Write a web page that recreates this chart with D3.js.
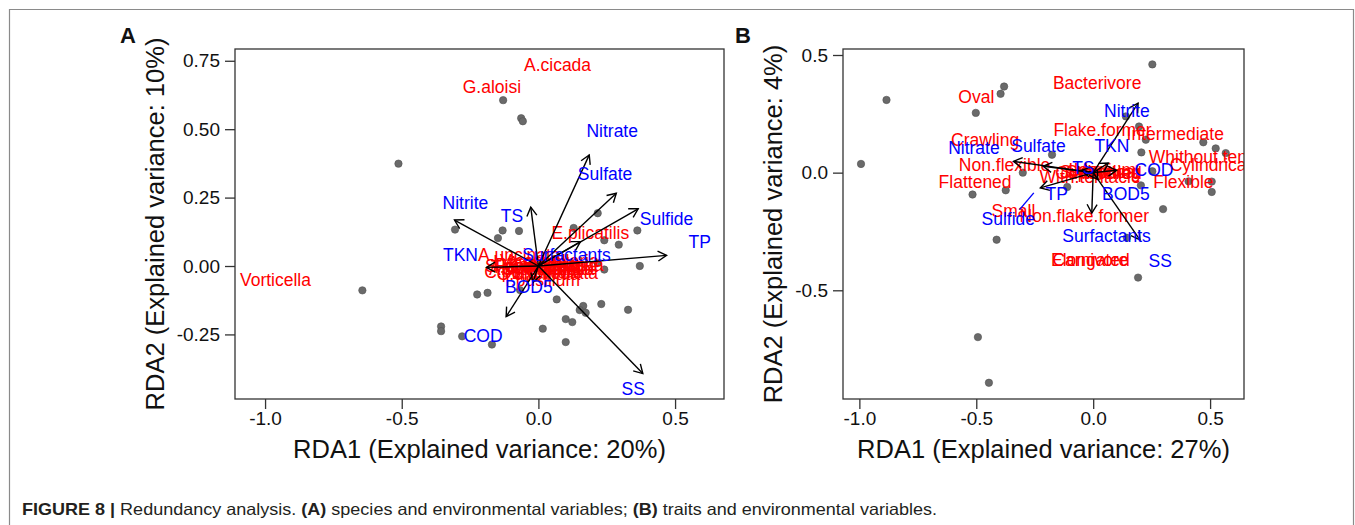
<!DOCTYPE html>
<html><head><meta charset="utf-8">
<script src="https://cdn.jsdelivr.net/npm/d3@7"></script>
<style>body{margin:0;background:#fff}svg{display:block}text{font-family:"Liberation Sans",Arial,Helvetica,sans-serif}</style>
</head><body><svg id="c" width="1355" height="525"></svg>
<script>
// ---------- Panel A : species & environmental variables ----------
const sitesAx = [-0.129,-0.063,-0.057,-0.512,-0.305,-0.131,-0.071,-0.148,0.217,0.129,0.362,0.241,0.294,0.217,0.241,0.371,-0.644,-0.224,-0.186,-0.067,0.067,0.164,0.151,0.173,0.230,0.328,0.100,0.124,0.016,0.100,-0.356,-0.356,-0.279,-0.170];
const sitesAy = [0.606,0.540,0.529,0.374,0.133,0.130,0.128,0.102,0.193,0.139,0.130,0.094,0.078,0.011,-0.013,0.000,-0.089,-0.104,-0.098,-0.088,-0.122,-0.146,-0.161,-0.171,-0.139,-0.160,-0.194,-0.205,-0.229,-0.278,-0.221,-0.238,-0.257,-0.287];

const envAnames = ["Nitrate","Sulfate","Sulfide","TP","SS","COD","Nitrite","TS","TKN","Surfactants","BOD5"];
const envAx  = [0.186,0.285,0.365,0.469,0.382,-0.118,-0.307,-0.028,-0.190,0.154,-0.020];
const envAy  = [0.406,0.266,0.209,0.039,-0.393,-0.185,0.168,0.215,-0.005,0.089,-0.060];
const envAlx = [0.270,0.244,0.469,0.590,0.347,-0.202,-0.267,-0.097,-0.285,0.103,-0.035];
const envAly = [0.494,0.337,0.174,0.089,-0.448,-0.256,0.232,0.183,0.040,0.040,-0.076];

const sppAnames = ["A.cicada","G.aloisi","Vorticella","E.plicatilis","A.uncinata","T.pusillum",
  "S.lemnae","A.costata","O.articulata","C.polypinum","Z.arbuscula","L.fasciola","E.patella",
  "C.uncinata","V.convallaria","A.vulgaris","E.alveolata","P.caudatum","R.rotatoria","T.pyriformis"];
const sppAx = [0.070,-0.170,-0.962,0.190,-0.070,0.010,-0.060,0.020,0.030,-0.020,0.050,-0.030,0.080,0.000,0.040,-0.040,0.060,0.010,0.090,-0.010];
const sppAy = [0.735,0.654,-0.049,0.120,0.040,-0.050,0.000,0.010,-0.010,-0.020,0.000,0.015,-0.010,-0.030,0.020,-0.010,-0.025,0.005,0.005,-0.005];

const xTicksA = [-1.0,-0.5,0.0,0.5];
const yTicksA = [-0.25,0.00,0.25,0.50,0.75];

// ---------- Panel B : traits & environmental variables ----------
const sitesBx = [0.253,-0.381,-0.396,-0.884,-0.502,-0.993,0.140,0.196,0.225,-0.176,0.206,0.471,0.524,0.567,-0.301,-0.374,-0.516,-0.111,0.204,0.253,0.408,0.507,0.507,0.299,-0.413,0.192,-0.493,-0.446,0.144];
const sitesBy = [0.460,0.366,0.335,0.309,0.254,0.037,0.239,0.196,0.140,0.076,0.086,0.129,0.103,0.083,0.000,-0.075,-0.093,-0.061,-0.054,0.006,-0.037,-0.038,-0.082,-0.155,-0.285,-0.446,-0.699,-0.893,-0.277];

const envBnames = ["Nitrite","TKN","Sulfate","Nitrate","TS","COD","TP","BOD5","Surfactants","SS"];
const envBx  = [0.192,0.065,-0.214,-0.341,-0.050,0.100,-0.226,0.020,-0.006,0.200];
const envBy  = [0.295,0.041,0.027,0.048,0.010,0.010,-0.065,-0.030,-0.172,-0.286];
const envBlabNames = ["Nitrite","TKN","Sulfate","Nitrate","TS","COD","TP","BOD5","Sulfide","Surfactants","SS"];
const envBlx = [0.144,0.080,-0.234,-0.510,-0.042,0.260,-0.156,0.140,-0.363,0.057,0.287];
const envBly = [0.264,0.114,0.112,0.105,0.020,0.013,-0.090,-0.090,-0.195,-0.270,-0.376];
const sulfideSegX = [-0.254,-0.315];
const sulfideSegY = [-0.086,-0.157];

const traitNames = ["Bacterivore","Oval","Crawling","Flake.former","Intermediate","Non.flexible","Flattened",
  "Whithout.tentacle","Cylindrical","Flexible","With.tentacle","Small","Non.flake.former","Elongated","Carnivore",
  "Swimming","Attached","Large","Medium","Omnivore","Spherical"];
const traitX = [0.017,-0.500,-0.462,0.040,0.351,-0.379,-0.505,0.527,0.500,0.386,-0.013,-0.341,-0.038,-0.012,-0.012,0.030,0.060,-0.010,0.050,0.000,0.040];
const traitY = [0.380,0.321,0.140,0.182,0.164,0.034,-0.040,0.069,0.034,-0.040,-0.017,-0.164,-0.185,-0.371,-0.371,0.005,0.000,0.010,0.010,0.000,0.005];

const xTicksB = [-1.0,-0.5,0.0,0.5];
const yTicksB = [-0.5,0.0,0.5];

// ---------- drawing ----------
const svg = d3.select("#c");
const FONT = '"Liberation Sans",Arial,Helvetica,sans-serif';
const RED = "#ff0000", BLUE = "#0000ff";

// outer frame
svg.append("path").attr("d","M9.5,530 V9.5 H1353.5 V530").attr("fill","none").attr("stroke","#8a8a8a").attr("stroke-width",1.2);

function hyph(f){ return d => f(d).replace("\u2212","-"); }

function panel(o){
  const x = d3.scaleLinear().domain(o.xd).range([o.left,o.right]);
  const y = d3.scaleLinear().domain(o.yd).range([o.bottom,o.top]);
  const g = svg.append("g");
  const cid = "clip"+o.id;
  svg.append("clipPath").attr("id",cid).append("rect")
    .attr("x",o.left).attr("y",o.top).attr("width",o.right-o.left).attr("height",o.bottom-o.top);
  const inner = g.append("g").attr("clip-path",`url(#${cid})`);

  // site points
  inner.selectAll("circle.s").data(o.sx).join("circle")
    .attr("cx",(d)=>x(d)).attr("cy",(d,i)=>y(o.sy[i])).attr("r",3.7)
    .attr("fill","#6a6a6a").attr("stroke","#505050").attr("stroke-width",0.6);

  // species / trait labels
  inner.selectAll("text.sp").data(o.spN).join("text")
    .attr("x",(d,i)=>x(o.spX[i])).attr("y",(d,i)=>y(o.spY[i])).attr("dy","0.35em")
    .attr("text-anchor","middle").attr("font-size",17.5).attr("fill",RED).text(d=>d);

  // arrows
  const x0 = x(0), y0 = y(0);
  o.ex.forEach((ex,i)=>{
    const tx = x(ex), ty = y(o.ey[i]);
    inner.append("line").attr("x1",x0).attr("y1",y0).attr("x2",tx).attr("y2",ty)
      .attr("stroke","#000").attr("stroke-width",1.4);
    const ang = Math.atan2(ty-y0, tx-x0), L = 10, a = Math.PI/6;
    const p1 = [tx - L*Math.cos(ang-a), ty - L*Math.sin(ang-a)];
    const p2 = [tx - L*Math.cos(ang+a), ty - L*Math.sin(ang+a)];
    inner.append("path").attr("d",`M${p1[0]},${p1[1]} L${tx},${ty} L${p2[0]},${p2[1]}`)
      .attr("fill","none").attr("stroke","#000").attr("stroke-width",1.4);
  });
  if(o.segX){
    inner.append("line").attr("x1",x(o.segX[0])).attr("y1",y(o.segY[0]))
      .attr("x2",x(o.segX[1])).attr("y2",y(o.segY[1])).attr("stroke",BLUE).attr("stroke-width",1.4);
  }
  // env labels
  inner.selectAll("text.ev").data(o.eN).join("text")
    .attr("x",(d,i)=>x(o.elx[i])).attr("y",(d,i)=>y(o.ely[i])).attr("dy","0.35em")
    .attr("text-anchor","middle").attr("font-size",17.5).attr("fill",BLUE).text(d=>d);

  // box
  g.append("rect").attr("x",o.left).attr("y",o.top).attr("width",o.right-o.left).attr("height",o.bottom-o.top)
    .attr("fill","none").attr("stroke","#333").attr("stroke-width",1.3);

  // axes
  const ax = g.append("g").attr("transform",`translate(0,${o.bottom})`)
    .call(d3.axisBottom(x).tickValues(o.xt).tickFormat(hyph(d3.format(".1f"))).tickSize(10).tickSizeOuter(0).tickPadding(3));
  const ay = g.append("g").attr("transform",`translate(${o.left},0)`)
    .call(d3.axisLeft(y).tickValues(o.yt).tickFormat(hyph(d3.format(o.yf))).tickSize(10).tickSizeOuter(0).tickPadding(5));
  [ax,ay].forEach(a=>{
    a.select(".domain").remove();
    a.selectAll("line").attr("stroke","#333").attr("stroke-width",1.3);
    a.selectAll("text").attr("font-size",19).attr("font-family",FONT).attr("fill","#111");
  });

  // titles
  g.append("text").attr("x",(o.left+o.right)/2).attr("y",458).attr("text-anchor","middle")
    .attr("font-size",25.5).attr("fill","#111").text(o.xlab);
  g.append("text").attr("transform",`translate(${o.ytx},${(o.top+o.bottom)/2}) rotate(-90)`)
    .attr("text-anchor","middle").attr("font-size",25.5).attr("fill","#111").text(o.ylab);
  g.append("text").attr("x",o.letterX).attr("y",43).attr("font-size",22).attr("font-weight","bold")
    .attr("fill","#111").text(o.letter);
}

panel({id:"A", left:235, right:724, top:49, bottom:399, xd:[-1.11,0.679], yd:[-0.486,0.793],
  sx:sitesAx, sy:sitesAy, spN:sppAnames, spX:sppAx, spY:sppAy,
  ex:envAx, ey:envAy, eN:envAnames, elx:envAlx, ely:envAly,
  xt:xTicksA, yt:yTicksA, yf:".2f",
  xlab:"RDA1 (Explained variance: 20%)", ylab:"RDA2 (Explained variance: 10%)", ytx:164,
  letter:"A", letterX:120});

panel({id:"B", left:843, right:1244, top:49, bottom:399, xd:[-1.07,0.645], yd:[-0.962,0.5255],
  sx:sitesBx, sy:sitesBy, spN:traitNames, spX:traitX, spY:traitY,
  ex:envBx, ey:envBy, eN:envBlabNames, elx:envBlx, ely:envBly, segX:sulfideSegX, segY:sulfideSegY,
  xt:xTicksB, yt:yTicksB, yf:".1f",
  xlab:"RDA1 (Explained variance: 27%)", ylab:"RDA2 (Explained variance: 4%)", ytx:782,
  letter:"B", letterX:735});

// caption
const cap = svg.append("text").attr("x",22).attr("y",515).attr("font-size",16.5).attr("fill","#231f20")
  .attr("textLength",915).attr("lengthAdjust","spacingAndGlyphs");
cap.append("tspan").attr("font-weight","bold").text("FIGURE 8 | ");
cap.append("tspan").text("Redundancy analysis. ");
cap.append("tspan").attr("font-weight","bold").text("(A)");
cap.append("tspan").text(" species and environmental variables; ");
cap.append("tspan").attr("font-weight","bold").text("(B)");
cap.append("tspan").text(" traits and environmental variables.");
</script></body></html>
